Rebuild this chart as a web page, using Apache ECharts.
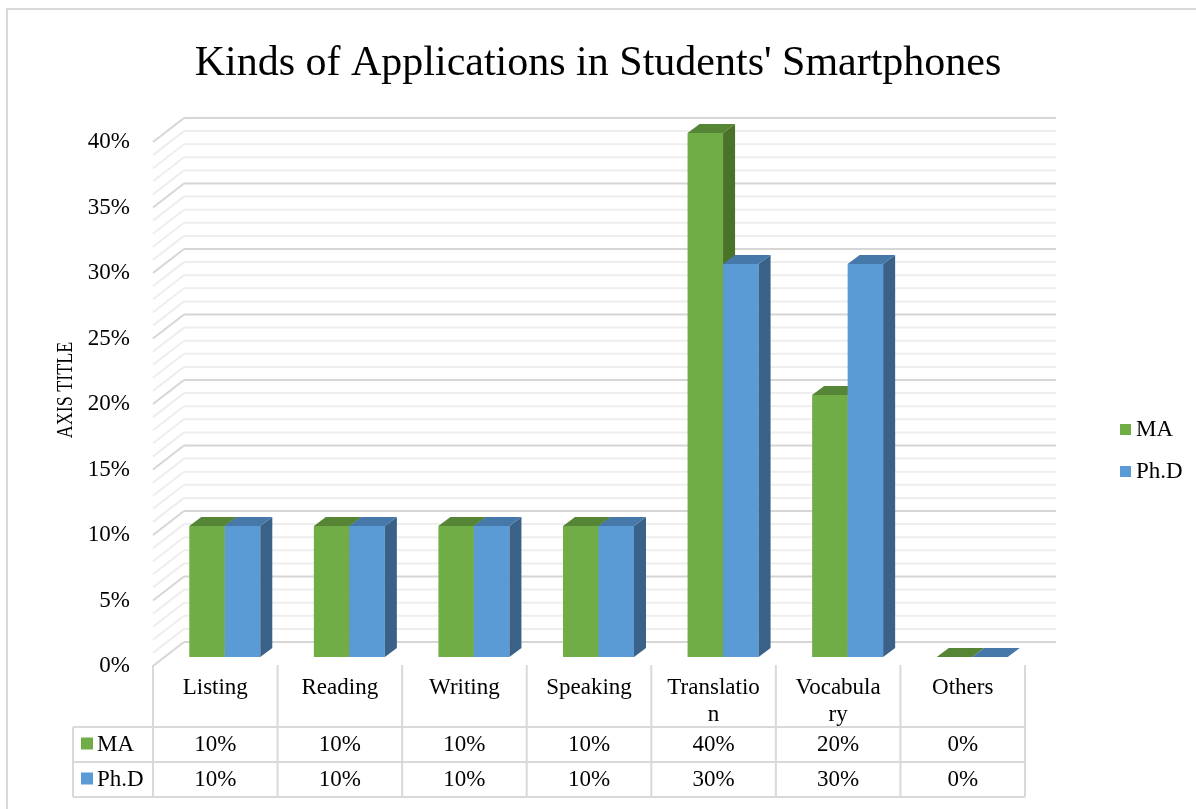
<!DOCTYPE html>
<html>
<head>
<meta charset="utf-8">
<script src="https://cdn.jsdelivr.net/npm/echarts@6/dist/echarts.min.js"></script>
<style>
  html, body { margin: 0; padding: 0; background: #fff; }
  #chart { width: 1196px; height: 809px; }
</style>
</head>
<body>
<div id="chart"></div>
<script>
// Categories (as printed in the data table), values per group, axis settings
const categories = ['Listing', 'Reading', 'Writing', 'Speaking', 'Translatio\nn', 'Vocabula\nry', 'Others'];
const maValues = [0.10, 0.10, 0.10, 0.10, 0.40, 0.20, 0.00];
const phdValues = [0.10, 0.10, 0.10, 0.10, 0.30, 0.30, 0.00];
const seriesNames = ['MA', 'Ph.D'];
const yMax = 0.4;
const majorStep = 0.05;
const minorStep = 0.01;

const FONT = '"Liberation Serif", "Times New Roman", serif';
const COLORS = {
  'MA':   { front: '#70ad47', top: '#568536', side: '#4a7228' },
  'Ph.D': { front: '#5b9bd5', top: '#4678aa', side: '#3a6289' }
};
// oblique depth of the walls and of the columns
const WALL_DX = 31, WALL_DY = -24;
const BAR_X = 9.5, BAR_Y = -9, BAR_DX = 12, BAR_DY = -9, BAR_FRAC = 0.285;
// data table geometry
const TABLE = { headTop: 665, row1: 727, row2: 762, bottom: 797, left: 73 };
const LINE_COLOR = '#d9d9d9';

const pct = v => Math.round(v * 100) + '%';

// values at which the wall lines sit
const wallTicks = [];
for (let k = 0; k <= Math.round(yMax / minorStep); k++) {
  wallTicks.push([0, +(k * minorStep).toFixed(2)]);
}

function renderWall(params, api) {
  const v = api.value(1);
  const first = api.coord([0, v]);
  const last = api.coord([categories.length - 1, v]);
  const band = api.size([1, 0])[0];
  const xL = first[0] - band / 2;
  const xR = last[0] + band / 2;
  const y = first[1];
  const r = v / majorStep;
  const major = Math.abs(r - Math.round(r)) < 1e-6;
  const style = { stroke: major ? '#d6d6d6' : '#eeeeee', lineWidth: 2, fill: null };
  return {
    type: 'group',
    children: [
      { type: 'line', shape: { x1: xL, y1: y, x2: xL + WALL_DX, y2: y + WALL_DY }, style: style },
      { type: 'line', shape: { x1: xL + WALL_DX, y1: y + WALL_DY, x2: xR + WALL_DX, y2: y + WALL_DY }, style: style }
    ]
  };
}

function makeBarRenderer(name, slot) {
  return function (params, api) {
    const idx = api.value(0);
    const val = api.value(1);
    const base = api.coord([idx, 0]);
    const top = api.coord([idx, val]);
    const band = api.size([1, 0])[0];
    const w = band * BAR_FRAC;
    const x0 = (slot === 0 ? base[0] - w : base[0]) + BAR_X;
    const yB = base[1] + BAR_Y;
    const yT = top[1] + BAR_Y;
    const c = COLORS[name];
    return {
      type: 'group',
      children: [
        { type: 'rect', shape: { x: x0, y: yT, width: w, height: yB - yT }, style: { fill: c.front } },
        { type: 'polygon', shape: { points: [[x0 + w, yT], [x0 + w + BAR_DX, yT + BAR_DY], [x0 + w + BAR_DX, yB + BAR_DY], [x0 + w, yB]] }, style: { fill: c.side } },
        { type: 'polygon', shape: { points: [[x0, yT], [x0 + w, yT], [x0 + w + BAR_DX, yT + BAR_DY], [x0 + BAR_DX, yT + BAR_DY]] }, style: { fill: c.top } }
      ]
    };
  };
}

function txt(text, x, y, extra) {
  return {
    type: 'text', x: x, y: y,
    style: Object.assign({
      text: text, fill: '#000', fontFamily: FONT, fontSize: 23,
      align: 'center', verticalAlign: 'middle'
    }, extra || {})
  };
}
function seg(x1, y1, x2, y2) {
  return { type: 'line', shape: { x1: x1, y1: y1, x2: x2, y2: y2 }, style: { stroke: LINE_COLOR, lineWidth: 2 } };
}

function renderTable(params, api) {
  const idx = api.value(0);
  const c = api.coord([idx, 0]);
  const band = api.size([1, 0])[0];
  const xL = c[0] - band / 2;
  const xR = c[0] + band / 2;
  const midMA = (TABLE.row1 + TABLE.row2) / 2;
  const midPhd = (TABLE.row2 + TABLE.bottom) / 2;
  const children = [
    seg(xL, TABLE.headTop, xL, TABLE.bottom),
    seg(xL, TABLE.row1, xR, TABLE.row1),
    seg(xL, TABLE.row2, xR, TABLE.row2),
    seg(xL, TABLE.bottom, xR, TABLE.bottom),
    txt(categories[idx], c[0], 674, { verticalAlign: 'top', lineHeight: 27 }),
    txt(pct(maValues[idx]), c[0], midMA),
    txt(pct(phdValues[idx]), c[0], midPhd)
  ];
  if (idx === categories.length - 1) {
    children.push(seg(xR, TABLE.headTop, xR, TABLE.bottom));
  }
  if (idx === 0) {
    children.push(
      seg(TABLE.left, TABLE.row1, xL, TABLE.row1),
      seg(TABLE.left, TABLE.row2, xL, TABLE.row2),
      seg(TABLE.left, TABLE.bottom, xL, TABLE.bottom),
      seg(TABLE.left, TABLE.row1, TABLE.left, TABLE.bottom),
      { type: 'rect', shape: { x: 81, y: midMA - 7, width: 12, height: 12 }, style: { fill: COLORS['MA'].front } },
      txt(seriesNames[0], 97, midMA, { align: 'left' }),
      { type: 'rect', shape: { x: 81, y: midPhd - 7, width: 12, height: 12 }, style: { fill: COLORS['Ph.D'].front } },
      txt(seriesNames[1], 97, midPhd, { align: 'left' })
    );
  }
  return { type: 'group', children: children };
}

const chart = echarts.init(document.getElementById('chart'), null, { renderer: 'canvas' });

chart.setOption({
  animation: false,
  backgroundColor: '#fff',
  title: {
    text: "Kinds of Applications in Students' Smartphones",
    left: 'center',
    top: 38,
    textStyle: { fontFamily: FONT, fontSize: 42, fontWeight: 'normal', color: '#000' }
  },
  legend: {
    orient: 'vertical',
    left: 1115,
    top: 413,
    icon: 'rect',
    itemWidth: 11,
    itemHeight: 11,
    itemGap: 19,
    data: seriesNames,
    textStyle: { fontFamily: FONT, fontSize: 23, color: '#000' }
  },
  grid: { left: 153, right: 171, top: 142, bottom: 143 },
  xAxis: {
    type: 'category',
    data: categories,
    axisLine: { show: false },
    axisTick: { show: false },
    axisLabel: { show: false },
    splitLine: { show: false }
  },
  yAxis: {
    type: 'value',
    min: 0,
    max: yMax,
    interval: majorStep,
    axisLine: { show: false },
    axisTick: { show: false },
    splitLine: { show: false },
    axisLabel: {
      formatter: pct,
      margin: 23,
      fontFamily: FONT,
      fontSize: 23,
      color: '#000'
    }
  },
  graphic: [
    {
      type: 'rect',
      shape: { x: 7, y: 9, width: 1400, height: 1000 },
      style: { fill: null, stroke: '#d9d9d9', lineWidth: 2 },
      silent: true
    },
    {
      type: 'text',
      x: 66,
      y: 390,
      rotation: Math.PI / 2,
      scaleY: 1.3,
      style: {
        text: 'AXIS TITLE', fill: '#000', fontFamily: FONT, fontSize: 18,
        align: 'center', verticalAlign: 'middle'
      }
    }
  ],
  series: [
    {
      type: 'custom',
      name: 'walls',
      silent: true,
      z: 1,
      data: wallTicks,
      renderItem: renderWall
    },
    {
      type: 'custom',
      name: seriesNames[0],
      z: 2,
      itemStyle: { color: COLORS['MA'].front },
      data: maValues.map((v, i) => [i, v]),
      renderItem: makeBarRenderer('MA', 0)
    },
    {
      type: 'custom',
      name: seriesNames[1],
      z: 2,
      itemStyle: { color: COLORS['Ph.D'].front },
      data: phdValues.map((v, i) => [i, v]),
      renderItem: makeBarRenderer('Ph.D', 1)
    },
    {
      type: 'custom',
      name: 'table',
      silent: true,
      z: 2,
      data: categories.map((c, i) => [i, 0]),
      renderItem: renderTable
    }
  ]
});
</script>
</body>
</html>
